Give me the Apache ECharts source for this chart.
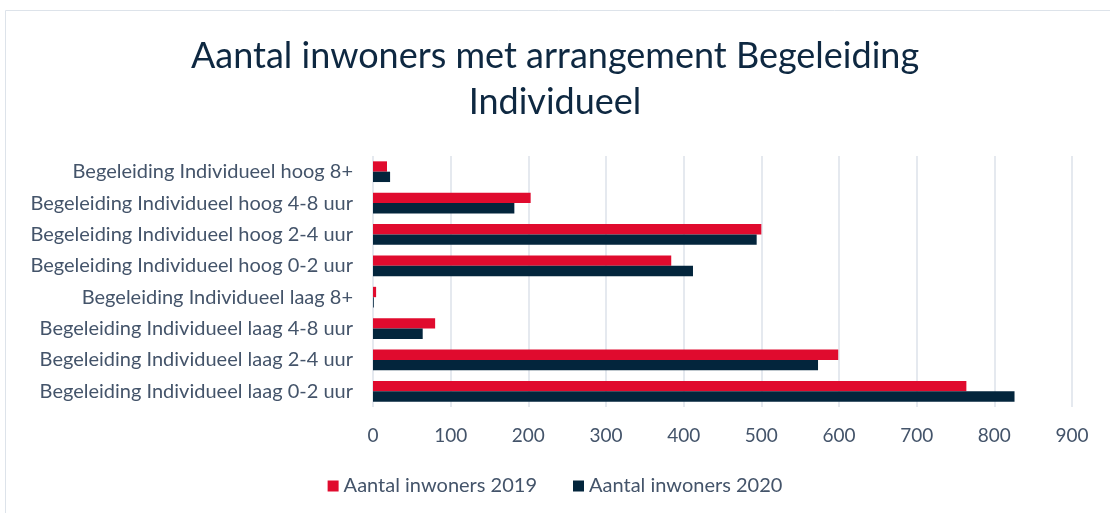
<!DOCTYPE html>
<html>
<head>
<meta charset="utf-8">
<script src="https://cdn.jsdelivr.net/npm/echarts@6/dist/echarts.min.js"></script>
<style>
  html, body { margin: 0; padding: 0; background: #fff; }
  #chart { width: 1110px; height: 513px; }
</style>
</head>
<body>
<div id="chart"></div>
<script>
// categories top to bottom
var categories = [
    'Begeleiding Individueel hoog 8+',
    'Begeleiding Individueel hoog 4-8 uur',
    'Begeleiding Individueel hoog 2-4 uur',
    'Begeleiding Individueel hoog 0-2 uur',
    'Begeleiding Individueel laag 8+',
    'Begeleiding Individueel laag 4-8 uur',
    'Begeleiding Individueel laag 2-4 uur',
    'Begeleiding Individueel laag 0-2 uur'
];
var inwoners2019 = [18, 203, 500, 384, 4, 80, 599, 764];
var inwoners2020 = [22, 182, 494, 412, 1, 64, 573, 826];

var textColor = '#44546a';
var font = 'Lato, "Open Sans", sans-serif';

var myChart = echarts.init(document.getElementById('chart'));
var option = {
    backgroundColor: '#fff',
    textStyle: { fontFamily: font },
    title: {
        text: 'Aantal inwoners met arrangement Begeleiding\nIndividueel',
        left: 'center',
        top: 28,
        textStyle: {
            color: '#0e2841',
            fontSize: 36,
            fontWeight: 'normal',
            lineHeight: 46,
            fontFamily: font
        }
    },
    graphic: [{
        type: 'rect',
        shape: { x: 5.5, y: 10.5, width: 1120, height: 520 },
        style: { fill: 'none', stroke: '#dde3ea', lineWidth: 1 },
        silent: true
    }],
    legend: {
        data: ['Aantal inwoners 2019', 'Aantal inwoners 2020'],
        bottom: 12,
        left: 'center',
        icon: 'rect',
        itemWidth: 11,
        itemHeight: 11,
        itemGap: 36,
        textStyle: { color: textColor, fontSize: 20, fontFamily: font }
    },
    grid: {
        left: 373,
        right: 38,
        top: 156,
        bottom: 106,
        containLabel: false
    },
    xAxis: {
        type: 'value',
        min: 0,
        max: 900,
        interval: 100,
        axisLine: { show: false },
        axisTick: { show: false },
        axisLabel: { color: textColor, fontSize: 19, margin: 19, fontFamily: font },
        splitLine: { lineStyle: { color: '#dde2ea', width: 1.5 } }
    },
    yAxis: {
        type: 'category',
        inverse: true,
        data: categories,
        axisLine: { show: false },
        axisTick: { show: false },
        axisLabel: { color: textColor, fontSize: 20, margin: 20, fontFamily: font }
    },
    series: [{
        name: 'Aantal inwoners 2019',
        type: 'bar',
        data: inwoners2019,
        barGap: '0%',
        barCategoryGap: '34%',
        itemStyle: { color: '#e00b2e' }
    }, {
        name: 'Aantal inwoners 2020',
        type: 'bar',
        data: inwoners2020,
        itemStyle: { color: '#03253c' }
    }]
};
myChart.setOption(option);
</script>
</body>
</html>
